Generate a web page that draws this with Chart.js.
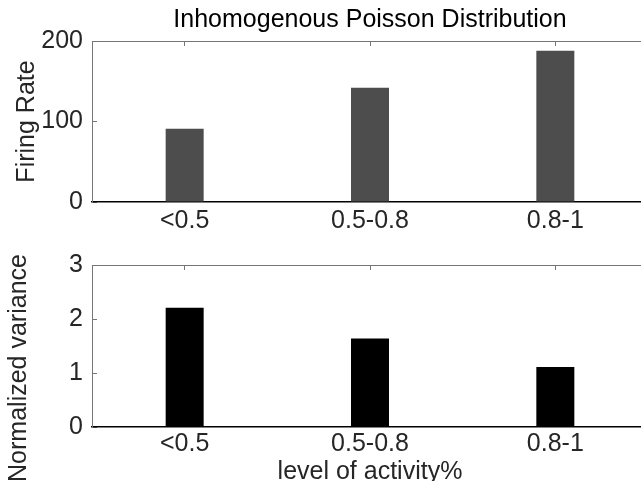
<!DOCTYPE html>
<html>
<head>
<meta charset="utf-8">
<title>Inhomogenous Poisson Distribution</title>
<script src="https://cdn.jsdelivr.net/npm/chart.js@4.4.1/dist/chart.umd.min.js"></script>
<style>
  html, body { margin: 0; padding: 0; background: #fff; overflow: hidden; width: 641px; height: 481px; }
  .panel { position: absolute; left: 0; }
  #toppanel { top: 0; }
  #bottompanel { top: 225px; }
</style>
</head>
<body>
<div class="panel" id="toppanel"><canvas id="ratechart" width="660" height="250"></canvas></div>
<div class="panel" id="bottompanel"><canvas id="varchart" width="660" height="280"></canvas></div>
<script>
const categories = ["<0.5", "0.5-0.8", "0.8-1"];
const firingRate = [91, 142, 188];
const normVariance = [2.21, 1.64, 1.11];
const rateTicks = [0, 100, 200];
const varTicks = [0, 1, 2, 3];

Chart.defaults.font.family = '"Liberation Sans", Arial, Helvetica, sans-serif';
Chart.defaults.font.size = 25;
Chart.defaults.color = "#262626";

const axisGrey = "#767676";

function barScales(yTicks, xPad) {
    return {
        x: {
            type: "category",
            offset: true,
            grid: { drawOnChartArea: false, drawTicks: false, offset: false },
            border: { color: "#000", width: 1.5 },
            ticks: { padding: xPad, maxRotation: 0, autoSkip: false },
            afterFit: s => { s.height = s.options.fixedHeight; }
        },
        x2: {
            type: "category",
            position: "top",
            offset: true,
            grid: { drawOnChartArea: false, tickLength: -5, color: axisGrey, offset: false },
            border: { color: axisGrey, width: 1 },
            ticks: { display: false },
            afterFit: s => { s.height = 0; }
        },
        y: {
            min: yTicks[0],
            max: yTicks[yTicks.length - 1],
            afterBuildTicks: s => { s.ticks = yTicks.map(v => ({ value: v })); },
            grid: { drawOnChartArea: false, tickLength: -5, color: axisGrey },
            border: { color: axisGrey, width: 1 },
            ticks: { padding: 14 },
            afterFit: s => { s.width = 92; }
        }
    };
}

// ylabel of the lower panel sits a bit below the axis centre, draw it by hand
const sideLabel = {
    id: "sideLabel",
    afterDraw(chart, args, opts) {
        if (!opts.text) return;
        const ctx = chart.ctx;
        ctx.save();
        ctx.translate(opts.x, opts.y);
        ctx.rotate(-Math.PI / 2);
        ctx.font = '25px "Liberation Sans", Arial, Helvetica, sans-serif';
        ctx.fillStyle = "#262626";
        ctx.textAlign = "center";
        ctx.textBaseline = "middle";
        ctx.fillText(opts.text, 0, 0);
        ctx.restore();
    }
};

// top panel
const rateScales = barScales(rateTicks, 4);
rateScales.x.fixedHeight = 48;
rateScales.y.title = { display: true, text: "Firing Rate", padding: { top: 12, bottom: 0 } };

new Chart(document.getElementById("ratechart").getContext("2d"), {
    type: "bar",
    data: {
        labels: categories,
        datasets: [{
            data: firingRate,
            backgroundColor: "#4d4d4d",
            borderWidth: 0,
            barPercentage: 0.205,
            categoryPercentage: 1
        }]
    },
    options: {
        responsive: false,
        animation: false,
        devicePixelRatio: 1,
        layout: { padding: { left: 0, right: 12, top: 0, bottom: 0 } },
        plugins: {
            legend: { display: false },
            tooltip: { enabled: false },
            title: {
                display: true,
                text: "Inhomogenous Poisson Distribution",
                fullSize: false,
                color: "#000",
                font: { size: 25, weight: "normal" },
                padding: { top: 5, bottom: 6 }
            }
        },
        scales: rateScales
    }
});

// bottom panel
const varScales = barScales(varTicks, 2);
varScales.x.fixedHeight = 78;
varScales.x.title = { display: true, text: "level of activity%", padding: { top: 0, bottom: 18 } };

new Chart(document.getElementById("varchart").getContext("2d"), {
    type: "bar",
    data: {
        labels: categories,
        datasets: [{
            data: normVariance,
            backgroundColor: "#000",
            borderWidth: 0,
            barPercentage: 0.205,
            categoryPercentage: 1
        }]
    },
    options: {
        responsive: false,
        animation: false,
        devicePixelRatio: 1,
        layout: { padding: { left: 0, right: 12, top: 40, bottom: 0 } },
        plugins: {
            legend: { display: false },
            tooltip: { enabled: false },
            sideLabel: { text: "Normalized variance", x: 19, y: 143 }
        },
        scales: varScales
    },
    plugins: [sideLabel]
});
</script>
</body>
</html>
